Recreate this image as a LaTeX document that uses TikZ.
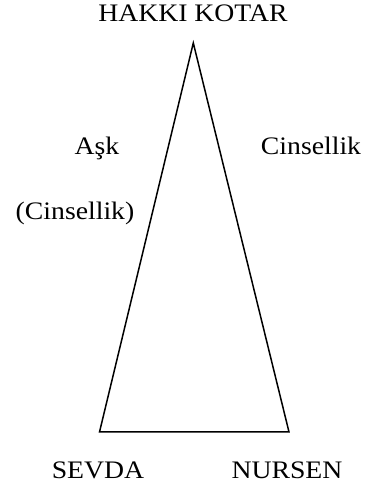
\documentclass[tikz,border=0pt]{standalone}
\usepackage{fontspec}
\setmainfont{Liberation Serif}[FakeStretch=1.1]
\begin{document}
\begin{tikzpicture}[x=1pt,y=1pt,
  lbl/.style={anchor=base,inner sep=0pt,font=\fontsize{25.2}{28}\selectfont}]
\useasboundingbox (0,0) rectangle (370,502);
\coordinate (top) at (193.3,459);
\coordinate (bl) at (99.5,70);
\coordinate (br) at (289,70);
\draw[line width=1.5pt,line join=miter] (top) -- (bl) -- (br) -- cycle;
\node[lbl] (hk) at (193,480) {HAKKI KOTAR};
\node[lbl] (ask) at (97,347) {Aşk};
\node[lbl] (cin) at (311,347) {Cinsellik};
\node[lbl] (cin2) at (75,282) {(Cinsellik)};
\node[lbl] (sev) at (98,23) {SEVDA};
\node[lbl] (nur) at (287,23) {NURSEN};
\end{tikzpicture}
\end{document}
